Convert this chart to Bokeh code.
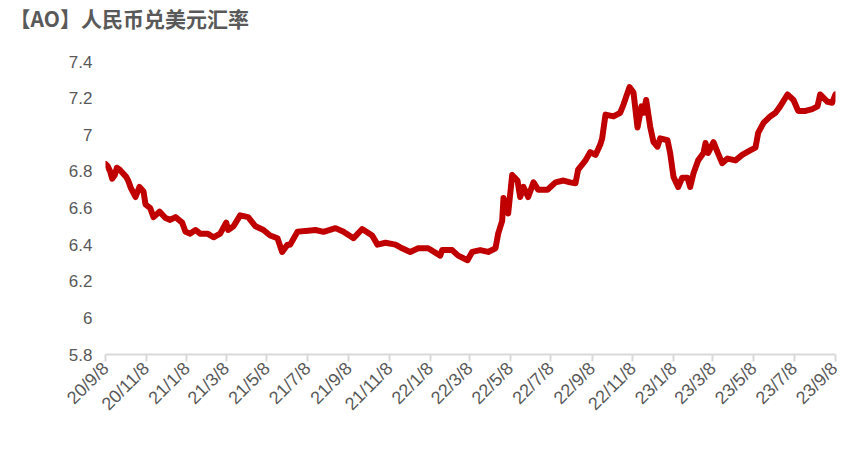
import math
import pandas as pd
from bokeh.plotting import figure
from bokeh.models import FixedTicker, CustomJSTickFormatter, Range1d, Title
from bokeh.embed import file_html
from bokeh.resources import INLINE

# ---- data ----
dates = [
    "2020-09-08", "2020-09-11", "2020-09-15", "2020-09-18", "2020-09-22", "2020-09-25", "2020-09-29",
    "2020-10-09", "2020-10-12", "2020-10-16", "2020-10-23", "2020-10-29", "2020-11-04", "2020-11-07",
    "2020-11-14", "2020-11-19", "2020-11-28", "2020-12-07", "2020-12-14", "2020-12-22", "2021-01-01",
    "2021-01-06", "2021-01-13", "2021-01-21", "2021-01-28", "2021-02-08", "2021-02-17", "2021-02-27",
    "2021-03-08", "2021-03-11", "2021-03-19", "2021-03-29", "2021-04-10", "2021-04-21", "2021-05-03",
    "2021-05-13", "2021-05-24", "2021-05-31", "2021-06-08", "2021-06-12", "2021-06-23", "2021-07-05",
    "2021-07-20", "2021-08-01", "2021-08-19", "2021-08-31", "2021-09-15", "2021-09-28", "2021-10-13",
    "2021-10-21", "2021-11-02", "2021-11-17", "2021-11-27", "2021-12-09", "2021-12-21", "2022-01-05",
    "2022-01-23", "2022-01-26", "2022-02-10", "2022-02-19", "2022-03-05", "2022-03-12", "2022-03-24",
    "2022-04-05", "2022-04-16", "2022-04-20", "2022-04-26", "2022-04-28", "2022-05-05", "2022-05-11",
    "2022-05-19", "2022-05-23", "2022-05-28", "2022-06-04", "2022-06-12", "2022-06-19", "2022-07-03",
    "2022-07-15", "2022-07-27", "2022-08-06", "2022-08-14", "2022-08-18", "2022-08-29", "2022-09-05",
    "2022-09-13", "2022-09-20", "2022-09-23", "2022-09-28", "2022-10-10", "2022-10-20", "2022-10-25",
    "2022-11-03", "2022-11-09", "2022-11-15", "2022-11-21", "2022-11-24", "2022-11-28", "2022-12-04",
    "2022-12-09", "2022-12-15", "2022-12-19", "2022-12-30", "2023-01-03", "2023-01-08", "2023-01-15",
    "2023-01-21", "2023-01-29", "2023-02-02", "2023-02-07", "2023-02-14", "2023-02-22", "2023-02-25",
    "2023-03-01", "2023-03-09", "2023-03-15", "2023-03-22", "2023-03-30", "2023-04-11", "2023-04-21",
    "2023-05-03", "2023-05-11", "2023-05-15", "2023-05-23", "2023-06-02", "2023-06-10", "2023-06-17",
    "2023-06-28", "2023-07-07", "2023-07-14", "2023-07-25", "2023-08-04", "2023-08-12", "2023-08-16",
    "2023-08-27", "2023-09-03", "2023-09-08",
]
rates = [
    6.84, 6.83, 6.80, 6.76, 6.78, 6.82, 6.81,
    6.77, 6.75, 6.71, 6.66, 6.715, 6.69, 6.62,
    6.60, 6.55, 6.58, 6.545, 6.535, 6.55, 6.52,
    6.47, 6.46, 6.48, 6.46, 6.46, 6.44, 6.46,
    6.52, 6.48, 6.50, 6.56, 6.55, 6.50, 6.48,
    6.45, 6.435, 6.36, 6.40, 6.40, 6.47, 6.475,
    6.48, 6.47, 6.49, 6.47, 6.435, 6.485, 6.45,
    6.40, 6.41, 6.40, 6.38, 6.36, 6.38, 6.38,
    6.34, 6.37, 6.37, 6.34, 6.315, 6.36, 6.37,
    6.36, 6.38, 6.46, 6.53, 6.655, 6.57, 6.78,
    6.75, 6.66, 6.715, 6.66, 6.74, 6.70, 6.70,
    6.74, 6.75, 6.74, 6.735, 6.81, 6.86, 6.905,
    6.89, 6.945, 6.98, 7.11, 7.10, 7.12, 7.165,
    7.26, 7.23, 7.04, 7.155, 7.12, 7.19, 7.045,
    6.96, 6.935, 6.98, 6.97, 6.90, 6.77, 6.715,
    6.765, 6.765, 6.715, 6.79, 6.86, 6.90, 6.955,
    6.90, 6.96, 6.905, 6.845, 6.87, 6.86, 6.89,
    6.915, 6.93, 7.01, 7.065, 7.10, 7.12, 7.155,
    7.22, 7.19, 7.13, 7.13, 7.14, 7.155, 7.22,
    7.18, 7.175, 7.22,
]
tick_dates = [
    "2020-09-08", "2020-11-08", "2021-01-08", "2021-03-08", "2021-05-08", "2021-07-08",
    "2021-09-08", "2021-11-08", "2022-01-08", "2022-03-08", "2022-05-08", "2022-07-08",
    "2022-09-08", "2022-11-08", "2023-01-08", "2023-03-08", "2023-05-08", "2023-07-08",
    "2023-09-08",
]
tick_labels = [
    "20/9/8", "20/11/8", "21/1/8", "21/3/8", "21/5/8", "21/7/8",
    "21/9/8", "21/11/8", "22/1/8", "22/3/8", "22/5/8", "22/7/8",
    "22/9/8", "22/11/8", "23/1/8", "23/3/8", "23/5/8", "23/7/8",
    "23/9/8",
]
y_ticks = [5.8, 6.0, 6.2, 6.4, 6.6, 6.8, 7.0, 7.2, 7.4]
title_text = "【AO】人民币兑美元汇率"

start = pd.Timestamp(dates[0])
xs = [(pd.Timestamp(d) - start).days for d in dates]
tx = [(pd.Timestamp(d) - start).days for d in tick_dates]

GREY = "#595959"
LINE = "#d9d9d9"

p = figure(width=841, height=446, output_backend="svg", toolbar_location=None, title=None,
           x_range=Range1d(tx[0], tx[-1]), y_range=Range1d(5.8, 7.4),
           min_border_left=105, min_border_right=6, min_border_top=0, min_border_bottom=92)

# spacer panel between frame and the title (closest to the frame)
p.add_layout(Title(text=" ", text_font_size="2px", standoff=25), "above")
p.add_layout(Title(text=title_text, align="left", offset=-96, standoff=0,
                   text_font="Noto Sans CJK SC", text_font_size="21px",
                   text_font_style="bold", text_color=GREY), "above")

p.line(xs, rates, line_color="#C00000", line_width=6, line_join="round", line_cap="round")

p.outline_line_color = None
p.grid.visible = False

xa = p.xaxis[0]
xa.ticker = FixedTicker(ticks=tx)
xa.major_label_overrides = {t: l for t, l in zip(tx, tick_labels)}
xa.major_label_orientation = math.pi / 4
xa.axis_line_color = LINE
xa.axis_line_width = 2
xa.major_tick_line_color = LINE
xa.major_tick_line_width = 2
xa.major_tick_out = 7
xa.major_tick_in = 0
xa.minor_tick_line_color = None
xa.major_label_text_color = GREY
xa.major_label_text_font = "Liberation Sans"
xa.major_label_text_font_size = "18px"
xa.major_label_standoff = 4

ya = p.yaxis[0]
ya.ticker = FixedTicker(ticks=y_ticks)
ya.formatter = CustomJSTickFormatter(code="return String(Number(tick.toFixed(2)));")
ya.axis_line_color = None
ya.major_tick_line_color = None
ya.major_tick_out = 0
ya.major_tick_in = 0
ya.minor_tick_line_color = None
ya.major_label_text_color = GREY
ya.major_label_text_font = "Liberation Sans"
ya.major_label_text_font_size = "17px"
ya.major_label_standoff = 13

open("out.html", "w").write(file_html(p, INLINE))
